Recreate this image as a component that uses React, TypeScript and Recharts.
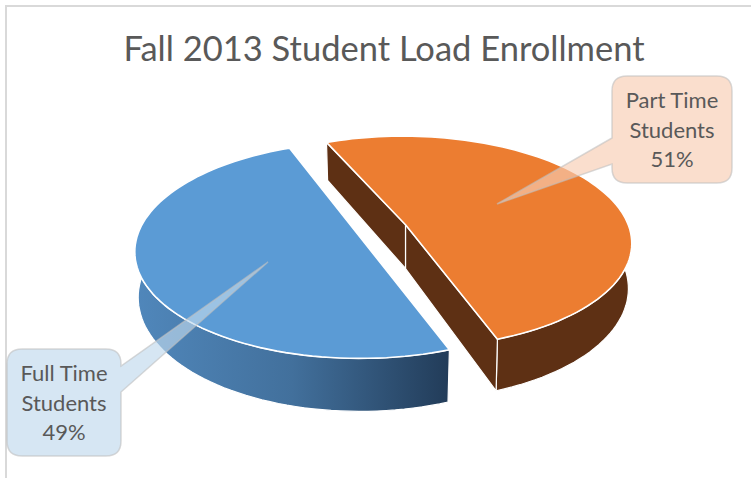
import { Pie, PieChart } from 'recharts';

const categories = ['Full Time Students', 'Part Time Students'];
const shares = [49, 51];

const topColors = ['#5B9BD5', '#EC7D31'];
const wallColors = ['url(#fullTimeWall)', '#5E3014'];

// callout boxes: x, y, w, h, then the pointer base on the box edge and its tip
const callouts = [
  { x: 7, y: 349, w: 114, h: 107, base: [392, 366], edge: 121, tip: [268, 262], fill: '#C0D9ED', lines: [381, 411, 440] },
  { x: 612, y: 76, w: 120, h: 107, base: [138, 164], edge: 612, tip: [497, 204], fill: '#F8CDB2', lines: [108, 138, 167] },
];

const pieData = categories.map((name, i) => ({
  name,
  value: shares[i],
  fill: topColors[i],
  wall: wallColors[i],
}));

const WIDTH = 751;
const HEIGHT = 478;
const FONT = "Lato, 'Open Sans', sans-serif";

// fake-3D camera for the disc
const TILT = 0.465;
const PERSPECTIVE = 0.163;
const EXPLODE = 0.1;
const DEPTH = 44;
const BOTTOM_SHRINK = 0.985;

type Pt = [number, number];

function toPath(points: Pt[]) {
  return 'M' + points.map(([x, y]) => `${x.toFixed(1)},${y.toFixed(1)}`).join('L') + 'Z';
}

function Slice3D(props: any) {
  const { cx, cy, outerRadius: r, startAngle, endAngle, fill, wall } = props;
  const mid = (((startAngle + endAngle) / 2) * Math.PI) / 180;
  const ox = EXPLODE * Math.cos(mid);
  const oy = -EXPLODE * Math.sin(mid);

  const top = (u: number, v: number): Pt => {
    const s = 1 / (1 - PERSPECTIVE * (v + oy));
    return [cx + r * (u + ox) * s, cy + r * TILT * (v + oy) * s];
  };
  const bottom = (u: number, v: number): Pt => {
    const s = 1 / (1 - PERSPECTIVE * (v + oy));
    const [x, y] = top(u, v);
    const apexX = cx + r * ox * s;
    return [apexX + (x - apexX) * BOTTOM_SHRINK, y + DEPTH * s];
  };

  const ring: [number, number][] = [];
  const span = Math.abs(endAngle - startAngle);
  const steps = Math.ceil(span / 2);
  for (let i = 0; i <= steps; i++) {
    const a = ((startAngle + ((endAngle - startAngle) * i) / steps) * Math.PI) / 180;
    ring.push([Math.cos(a), -Math.sin(a)]);
  }
  const first = ring[0];
  const last = ring[ring.length - 1];
  // under a half turn the two radii read as one straight cut, and its faces sit behind the top
  const reflex = span > 180;

  const cutFace = (p: [number, number]) =>
    toPath([top(0, 0), top(p[0], p[1]), bottom(p[0], p[1]), bottom(0, 0)]);
  const outerWall = toPath([
    ...ring.map(([u, v]) => top(u, v)),
    ...[...ring].reverse().map(([u, v]) => bottom(u, v)),
  ]);
  const rim = ring.map(([u, v]) => top(u, v));
  const topFace = toPath(reflex ? [top(0, 0), ...rim] : rim);

  return (
    <g>
      <path d={outerWall} fill={wall} stroke="#fff" strokeWidth={1.2} />
      {reflex && <path d={cutFace(first)} fill={wall} stroke="#fff" strokeWidth={1.2} />}
      {reflex && <path d={cutFace(last)} fill={wall} stroke="#fff" strokeWidth={1.2} />}
      <path d={topFace} fill={fill} stroke="#fff" strokeWidth={1.6} strokeLinejoin="round" />
    </g>
  );
}

function Callout(props: any) {
  const { index, name, percent } = props;
  const c = callouts[index];
  const r = 15;
  const right = c.x + c.w;
  const bottom = c.y + c.h;
  const onLeft = c.edge === c.x;
  const d = onLeft
    ? `M${c.x + r},${c.y}H${right - r}Q${right},${c.y} ${right},${c.y + r}V${bottom - r}Q${right},${bottom} ${right - r},${bottom}H${c.x + r}Q${c.x},${bottom} ${c.x},${bottom - r}V${c.base[1]}L${c.tip[0]},${c.tip[1]}L${c.x},${c.base[0]}V${c.y + r}Q${c.x},${c.y} ${c.x + r},${c.y}Z`
    : `M${c.x + r},${c.y}H${right - r}Q${right},${c.y} ${right},${c.y + r}V${c.base[1]}L${c.tip[0]},${c.tip[1]}L${right},${c.base[0]}V${bottom - r}Q${right},${bottom} ${right - r},${bottom}H${c.x + r}Q${c.x},${bottom} ${c.x},${bottom - r}V${c.y + r}Q${c.x},${c.y} ${c.x + r},${c.y}Z`;
  const words = String(name).split(' ');
  const rows = [`${words[0]} ${words[1]}`, words[2], `${Math.round(percent * 100)}%`];
  return (
    <g>
      <path d={d} fill={c.fill} fillOpacity={0.65} stroke="#BFBFBF" strokeOpacity={0.6} strokeWidth={1.5} />
      {rows.map((row, i) => (
        <text
          key={row}
          x={c.x + c.w / 2}
          y={c.lines[i]}
          textAnchor="middle"
          fill="#595959"
          fontFamily={FONT}
          fontSize={22}
        >
          {row}
        </text>
      ))}
    </g>
  );
}

export default function App() {
  return (
    <div style={{ position: 'absolute', left: 0, top: 0, width: WIDTH, height: HEIGHT, background: '#fff' }}>
      <div
        style={{
          position: 'absolute',
          left: 5,
          top: 5,
          right: 0,
          bottom: 0,
          borderLeft: '2px solid #D9D9D9',
          borderTop: '2px solid #D9D9D9',
        }}
      />
      <div style={{ position: 'absolute', left: 0, top: 0 }}>
        <PieChart width={WIDTH} height={HEIGHT} margin={{ top: 0, right: 0, bottom: 0, left: 0 }}>
          <defs>
            <linearGradient id="fullTimeWall" gradientUnits="userSpaceOnUse" x1={135} y1={0} x2={449} y2={0}>
              <stop offset="0%" stopColor="#5087BB" />
              <stop offset="50%" stopColor="#42709C" />
              <stop offset="100%" stopColor="#223C59" />
            </linearGradient>
          </defs>
          <text x={384} y={61} textAnchor="middle" fill="#595959" fontFamily={FONT} fontSize={34.5}>
            Fall 2013 Student Load Enrollment
          </text>
          <Pie
            data={pieData}
            dataKey="value"
            nameKey="name"
            cx={384.8}
            cy={228.5}
            outerRadius={224}
            startAngle={113.2}
            endAngle={473.2}
            stroke="none"
            shape={Slice3D}
            label={Callout}
            labelLine={false}
            isAnimationActive={false}
          />
        </PieChart>
      </div>
    </div>
  );
}
